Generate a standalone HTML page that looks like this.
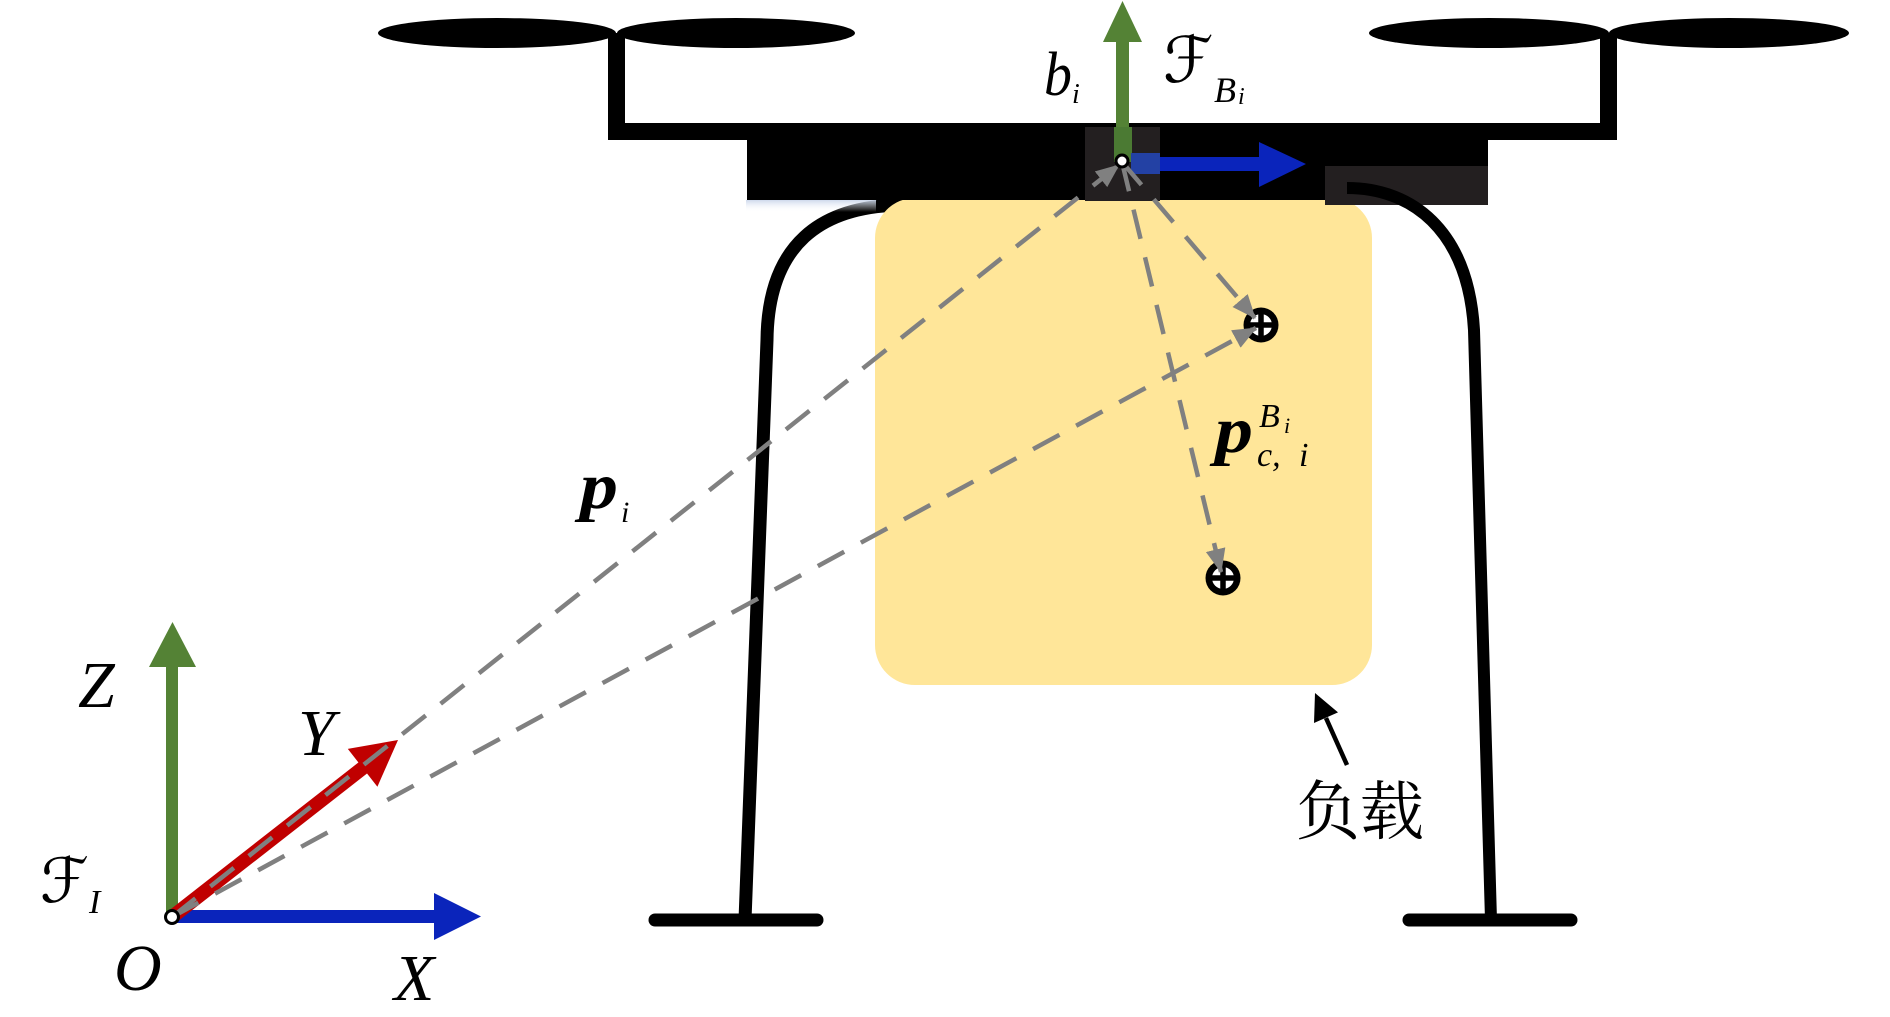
<!DOCTYPE html>
<html>
<head>
<meta charset="utf-8">
<style>
  html, body { margin: 0; padding: 0; background: #ffffff; }
  body { width: 1890px; height: 1017px; overflow: hidden; }
  svg { display: block; }
  .m { font-family: "Liberation Serif", "DejaVu Serif", serif; font-style: italic; fill: #000; }
  .cal { font-family: "DejaVu Sans", "DejaVu Serif", sans-serif; font-style: normal; fill: #000; }
  .pb { font-family: "Liberation Serif", "DejaVu Serif", serif; font-style: italic; font-weight: bold; fill: #000; }
  .cjk { font-family: "Liberation Serif", "Noto Serif CJK SC", "Noto Sans CJK SC", serif; fill: #000; }
</style>
</head>
<body>
<svg width="1890" height="1017" viewBox="0 0 1890 1017" xmlns="http://www.w3.org/2000/svg">
  <defs>
    <marker id="ah" viewBox="0 0 24 20" refX="23" refY="10" markerWidth="24" markerHeight="20" markerUnits="userSpaceOnUse" orient="auto">
      <path d="M0,0 L24,10 L0,20 z" fill="#808080"/>
    </marker>
    <linearGradient id="sh" x1="0" y1="0" x2="0" y2="1">
      <stop offset="0" stop-color="#c9d5ea" stop-opacity="0.9"/>
      <stop offset="1" stop-color="#ffffff" stop-opacity="0"/>
    </linearGradient>
  </defs>

  <rect x="0" y="0" width="1890" height="1017" fill="#ffffff"/>

  <!-- propellers -->
  <ellipse cx="497" cy="33" rx="119" ry="15" fill="#000"/>
  <ellipse cx="736" cy="33" rx="119" ry="15" fill="#000"/>
  <ellipse cx="1489" cy="33" rx="120" ry="15" fill="#000"/>
  <ellipse cx="1729" cy="33" rx="120" ry="15" fill="#000"/>
  <!-- stems -->
  <rect x="608" y="33" width="17" height="107" fill="#000"/>
  <rect x="1600" y="33" width="17" height="107" fill="#000"/>

  <!-- legs -->
  <path d="M 905,205 C 820,205 768,245 767,340 L 745,920" fill="none" stroke="#000" stroke-width="13"/>
  <line x1="655" y1="920" x2="817" y2="920" stroke="#000" stroke-width="13" stroke-linecap="round"/>

  <!-- payload -->
  <rect x="875" y="198" width="497" height="487" rx="40" ry="40" fill="#ffe699"/>

  <!-- body shadow -->
  <rect x="746" y="200" width="130" height="12" fill="url(#sh)"/>

  <!-- body -->
  <rect x="608" y="123" width="1009" height="17" fill="#000"/>
  <path d="M747,139 L1488,139 L1488,166 L1325,166 L1325,200 L747,200 Z" fill="#000"/>
  <rect x="1325" y="166" width="163" height="39" fill="#231f20"/>

  <!-- right leg -->
  <path d="M 1347,188 C 1410,188 1468,228 1474,330 L 1491,920" fill="none" stroke="#000" stroke-width="12"/>
  <line x1="1409" y1="920" x2="1571" y2="920" stroke="#000" stroke-width="13" stroke-linecap="round"/>

  <!-- body frame square -->
  <rect x="1085" y="127" width="75" height="74" fill="#231f20"/>
  <!-- green z of B -->
  <rect x="1116" y="40" width="13" height="88" fill="#548235"/>
  <polygon points="1103,42 1122.5,1 1142,42" fill="#548235"/>
  <rect x="1114" y="127" width="18" height="35" fill="#4b7a33"/>
  <!-- blue x of B -->
  <rect x="1131" y="153" width="29" height="21" fill="#2341a4"/>
  <rect x="1160" y="157" width="102" height="14" fill="#0a24bb"/>
  <polygon points="1259,142 1306,164 1259,187" fill="#0a24bb"/>

  <!-- markers c1, c2 -->
  <g>
    <circle cx="1261" cy="325" r="17.5" fill="#000"/>
    <circle cx="1261" cy="325" r="11" fill="#fff"/>
    <line x1="1249" y1="325" x2="1273" y2="325" stroke="#000" stroke-width="5.5"/>
    <line x1="1261" y1="313" x2="1261" y2="337" stroke="#000" stroke-width="5.5"/>
  </g>
  <g>
    <circle cx="1223" cy="578" r="17.5" fill="#000"/>
    <circle cx="1223" cy="578" r="11" fill="#fff"/>
    <line x1="1211" y1="578" x2="1235" y2="578" stroke="#000" stroke-width="5.5"/>
    <line x1="1223" y1="566" x2="1223" y2="590" stroke="#000" stroke-width="5.5"/>
  </g>

  <!-- inertial frame -->
  <rect x="166" y="665" width="12" height="252" fill="#548235"/>
  <polygon points="149,667 172.5,622 196,667" fill="#548235"/>
  <rect x="172" y="910" width="264" height="13" fill="#0a24bb"/>
  <polygon points="434,893 481,916.5 434,940" fill="#0a24bb"/>
  <line x1="172" y1="917" x2="364" y2="767" stroke="#c00000" stroke-width="14"/>
  <polygon points="398,740 377.4,786.7 347.8,748.9" fill="#c00000"/>

  <!-- dashed vectors -->
  <g fill="none" stroke="#808080" stroke-width="4.5" stroke-dasharray="30 19">
    <line x1="172" y1="917" x2="1119" y2="165" marker-end="url(#ah)"/>
    <line x1="172" y1="917" x2="1256" y2="328" marker-end="url(#ah)"/>
    <line x1="1122" y1="162" x2="1255" y2="318" marker-end="url(#ah)"/>
    <line x1="1122" y1="162" x2="1221" y2="572" marker-end="url(#ah)"/>
  </g>

  <!-- origin circles -->
  <circle cx="1122" cy="161" r="6" fill="#fff" stroke="#000" stroke-width="3"/>
  <circle cx="172" cy="917" r="6.5" fill="#fff" stroke="#000" stroke-width="3"/>

  <!-- payload pointer -->
  <line x1="1347" y1="765" x2="1326" y2="718" stroke="#000" stroke-width="4.5"/>
  <polygon points="1315,693 1338,712.4 1314,723" fill="#000"/>

  <!-- labels -->
  <text class="m" x="0" y="0" font-size="62" transform="translate(1044,95) scale(0.9,1)">b</text>
  <text class="m" x="1072" y="103" font-size="28">i</text>

  <text class="cal" x="1163" y="82" font-size="64">ℱ</text>
  <text class="m" x="1214" y="102" font-size="36">B</text>
  <text class="m" x="1238" y="104" font-size="24">i</text>

  <text class="pb" x="0" y="0" font-size="66" transform="translate(580,508) scale(1.15,1)">p</text>
  <text class="m" x="621" y="522" font-size="30">i</text>

  <text class="pb" x="0" y="0" font-size="66" transform="translate(1215,452) scale(1.15,1)">p</text>
  <text class="m" x="1259" y="427" font-size="34">B</text>
  <text class="m" x="1284" y="433" font-size="22">i</text>
  <text class="m" x="1257" y="466" font-size="34">c,</text>
  <text class="m" x="1299" y="466" font-size="34">i</text>

  <text class="m" x="78" y="707" font-size="66">Z</text>
  <text class="m" x="298" y="755" font-size="66">Y</text>
  <text class="cal" x="40" y="902" font-size="62">ℱ</text>
  <text class="m" x="89" y="913" font-size="34">I</text>
  <text class="m" x="114" y="990" font-size="66">O</text>
  <text class="m" x="394" y="1000" font-size="66">X</text>

  <text class="cjk" x="1296" y="834" font-size="64">负载</text>
</svg>
</body>
</html>
